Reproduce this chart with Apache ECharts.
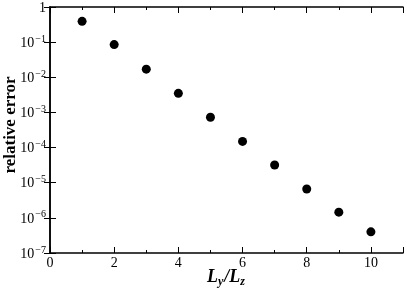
<!DOCTYPE html>
<html>
<head>
<meta charset="utf-8">
<script src="https://cdn.jsdelivr.net/npm/echarts@6/dist/echarts.min.js"></script>
<style>
  html, body { margin: 0; padding: 0; background: #fff; }
  #main { width: 407px; height: 289px; }
</style>
</head>
<body>
<div id="main"></div>
<script>
// data
const ratios = [1, 2, 3, 4, 5, 6, 7, 8, 9, 10]
const relErrors = [0.39, 0.085, 0.017, 0.0035, 0.00073, 0.00015, 3.2e-5, 6.6e-6, 1.45e-6, 4.0e-7]
const xTicks = [0, 2, 4, 6, 8, 10]

const serif = 'Liberation Serif'

const chart = echarts.init(document.getElementById('main'))

// y tick label as 10^n
const logLabel = (v) => {
  const e = Math.round(Math.log10(v))
  if (e === 0) return '{b|1}'
  return '{b|10}{s|' + String(e).replace('-', '−') + '}'
}

const tickRich = {
  b: { fontFamily: serif, fontSize: 14, color: '#000', lineHeight: 16, verticalAlign: 'bottom' },
  s: { fontFamily: serif, fontSize: 10, color: '#000', lineHeight: 16, verticalAlign: 'top', padding: [0, 0, 0, 1] }
}

const points = ratios.map((x, i) => [x, relErrors[i]])

const option = {
  backgroundColor: '#fff',
  animation: false,
  grid: { left: 50, right: 4, top: 7, bottom: 36, outerBoundsMode: 'none' },
  xAxis: [
    {
      type: 'value', min: 0, max: 11, interval: 2,
      name: '{i|L}{sub|y}{i|/L}{sub|z}',
      nameLocation: 'middle', nameGap: 15, nameMoveOverlap: false,
      nameTextStyle: {
        rich: {
          i: { fontFamily: serif, fontStyle: 'italic', fontWeight: 'bold', fontSize: 18, color: '#000', lineHeight: 20, verticalAlign: 'top' },
          sub: { fontFamily: serif, fontStyle: 'italic', fontWeight: 'bold', fontSize: 12, color: '#000', lineHeight: 20, verticalAlign: 'bottom', padding: [0, 1, 0, 0] }
        }
      },
      axisLine: { show: true, lineStyle: { color: '#000', width: 1.5 } },
      axisTick: { inside: true, length: 6, lineStyle: { color: '#000', width: 1 } },
      minorTick: { show: true, splitNumber: 2, length: 3, lineStyle: { color: '#000', width: 1 } },
      axisLabel: {
        margin: 3, fontFamily: serif, fontSize: 14, color: '#000',
        formatter: (v) => xTicks.includes(v) ? String(v) : ''
      },
      splitLine: { show: false }
    },
    {
      type: 'value', min: 0, max: 11, interval: 2, position: 'top',
      axisLine: { show: true, lineStyle: { color: '#000', width: 1.5 } },
      axisTick: { inside: true, length: 6, lineStyle: { color: '#000', width: 1 } },
      minorTick: { show: true, splitNumber: 2, length: 3, lineStyle: { color: '#000', width: 1 } },
      axisLabel: { show: false },
      splitLine: { show: false }
    }
  ],
  yAxis: [
    {
      type: 'log', logBase: 10, min: 1e-7, max: 1,
      name: 'relative error',
      nameLocation: 'middle', nameGap: 31, nameMoveOverlap: false,
      nameTextStyle: { fontFamily: serif, fontWeight: 'bold', fontSize: 17, color: '#000', padding: [0, 0, 0, 10] },
      axisLine: { show: true, lineStyle: { color: '#000', width: 1.5 } },
      axisTick: { inside: true, length: 6, lineStyle: { color: '#000', width: 1 } },
      axisLabel: { margin: 4, formatter: logLabel, rich: tickRich },
      splitLine: { show: false }
    },
    {
      type: 'log', logBase: 10, min: 1e-7, max: 1, position: 'right',
      axisLine: { show: true, lineStyle: { color: '#000', width: 1.5 } },
      axisTick: { inside: true, length: 6, lineStyle: { color: '#000', width: 1 } },
      axisLabel: { show: false },
      splitLine: { show: false }
    }
  ],
  series: [
    {
      type: 'scatter',
      data: points,
      symbol: 'circle',
      symbolSize: 9,
      itemStyle: { color: '#000', opacity: 1 }
    }
  ]
}
chart.setOption(option)
</script>
</body>
</html>
